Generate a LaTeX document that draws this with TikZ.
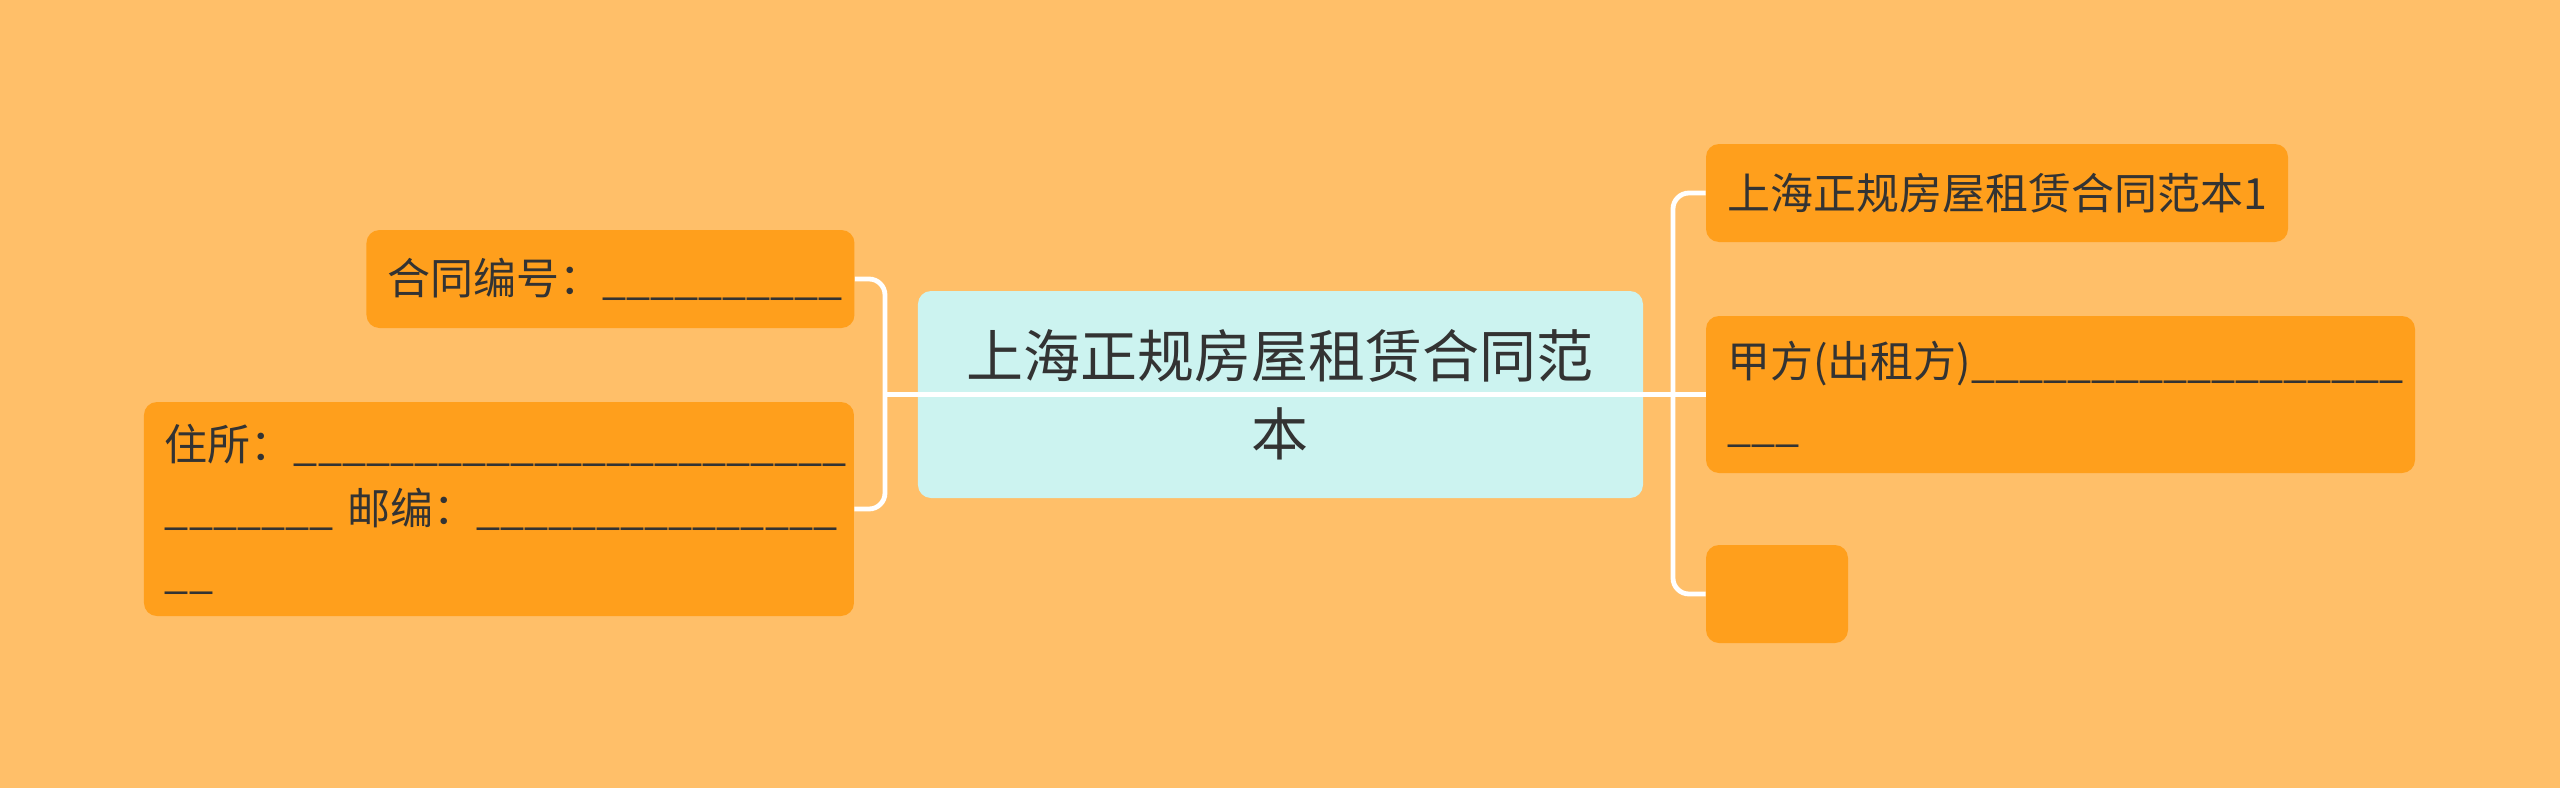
\documentclass[tikz,border=0pt]{standalone}
\usepackage{fontspec}
\setmainfont{Noto Sans CJK SC}
\usepackage{tikz}
\usetikzlibrary{positioning}
\definecolor{bgcol}{HTML}{FFBF69}
\definecolor{rootcol}{HTML}{CCF3F0}
\definecolor{leafcol}{HTML}{FF9F1C}
\definecolor{textcol}{HTML}{333333}
\tikzset{
maintopic/.style = {fill=rootcol, rounded corners=6.5pt, align=center, text=textcol, inner xsep=10pt, text width=342.5pt, minimum height=103.5pt, font=\fontsize{28.5pt}{39pt}\selectfont},
subtopic/.style = {fill=leafcol, rounded corners=6.5pt, align=left, text=textcol, inner xsep=10.5pt, minimum height=49pt, font=\fontsize{21.5pt}{32pt}\selectfont},
link/.style = {draw=white, line width=2.4pt, rounded corners=8pt},
}

\begin{document}
\begin{tikzpicture}[node distance=2cm]
    \fill [bgcol] (-640.25pt,-196.75pt) rectangle (639.75pt,197.25pt);

    \node [maintopic] (root) at (0,0) {上海正规房屋租赁合同范\\本};

    \node [subtopic, text width=223pt, left of = root, node distance = 335pt, yshift=57.75pt] (num)
       {合同编号：\_\_\_\_\_\_\_\_\_\_};
    \node [subtopic, text width=334pt, minimum height=107pt, left of = root, node distance = 390.75pt, yshift=-57.25pt] (addr)
       {住所：\_\_\_\_\_\_\_\_\_\_\_\_\_\_\_\_\_\_\_\_\_\_\_\\\_\_\_\_\_\_\_~邮编：\_\_\_\_\_\_\_\_\_\_\_\_\_\_\_\\\_\_};

    \node [subtopic, text width=270pt, right of = root, node distance = 358.25pt, yshift=100.75pt] (title) {上海正规房屋租赁合同范本1};
    \node [subtopic, text width=333.5pt, minimum height=78.5pt, right of = root, node distance = 390pt] (lessor)
       {甲方(出租方)\_\_\_\_\_\_\_\_\_\_\_\_\_\_\_\_\_\_\\\_\_\_};
    \node [subtopic, text width=50pt, right of = root, node distance = 248.25pt, yshift=-99.75pt] (blank) {};

    \coordinate [left of = root, node distance = 197.75pt] (lfork);
    \coordinate [right of = root, node distance = 196.25pt] (rfork);

    \draw [link] (num.east) -| (lfork) |- (addr.east);
    \draw [link] (title.west) -| (rfork) |- (blank.west);
    \draw [link] (lfork) -- (lessor.west);
\end{tikzpicture}
\end{document}
